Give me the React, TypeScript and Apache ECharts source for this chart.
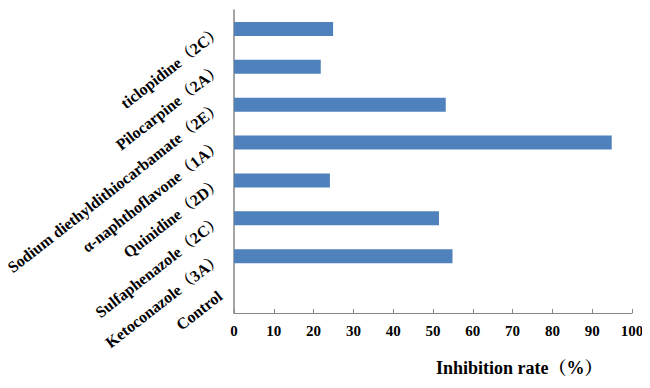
import React, { useEffect, useRef } from "react";
import * as echarts from "echarts";

const categories = [
  "Control",
  "Ketoconazole（3A）",
  "Sulfaphenazole（2C）",
  "Quinidine（2D）",
  "α-naphthoflavone（1A）",
  "Sodium diethyldithiocarbamate（2E）",
  "Pilocarpine（2A）",
  "ticlopidine（2C）",
];
const values = [0, 54.9, 51.5, 24.1, 94.9, 53.2, 21.8, 24.9];
const xTicks = { min: 0, max: 100, interval: 10 };
const xTitle = "Inhibition rate（%）";

const FONT = "'Times New Roman', 'Liberation Serif', 'Noto Serif CJK SC', serif";

export default function App() {
  const ref = useRef<HTMLDivElement>(null);
  useEffect(() => {
    if (!ref.current) return;
    const chart = echarts.init(ref.current, undefined, { renderer: "svg" });
    chart.setOption({
      animation: false,
      backgroundColor: "#ffffff",
      title: {
        text: xTitle,
        left: 436,
        top: 359,
        textStyle: { fontFamily: FONT, fontWeight: "bold", fontSize: 18, color: "#000" },
        padding: 0,
      },
      grid: { left: 234, right: 18, top: 10, bottom: 75 },
      xAxis: {
        type: "value",
        min: xTicks.min,
        max: xTicks.max,
        interval: xTicks.interval,
        axisLine: { show: true, lineStyle: { color: "#868686", width: 1 } },
        axisTick: { show: true, inside: true, length: 4, lineStyle: { color: "#868686" } },
        splitLine: { show: false },
        axisLabel: {
          margin: 10,
          fontFamily: FONT,
          fontWeight: "bold",
          fontSize: 15,
          color: "#000",
        },
      },
      yAxis: {
        type: "category",
        data: categories,
        axisLine: { show: true, lineStyle: { color: "#868686", width: 1.5 } },
        axisTick: { show: false },
        axisLabel: {
          rotate: 38,
          margin: 14,
          interval: 0,
          fontFamily: FONT,
          fontWeight: "bold",
          fontSize: 16,
          color: "#000",
        },
      },
      series: [
        {
          type: "bar",
          data: values,
          barWidth: 14,
          itemStyle: { color: "#4F81BD" },
        },
      ],
    });
    return () => chart.dispose();
  }, []);
  return <div ref={ref} style={{ width: 650, height: 388, marginLeft: -8, marginTop: -8 }} />;
}
